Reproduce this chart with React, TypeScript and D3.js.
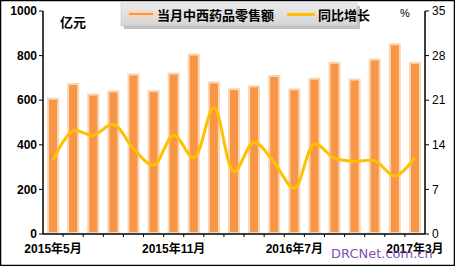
import React from "react";
import * as d3 from "d3";

const categories = [
  "2015年5月", "2015年6月", "2015年7月", "2015年8月", "2015年9月", "2015年10月",
  "2015年11月", "2015年12月", "2016年3月", "2016年4月", "2016年5月", "2016年6月",
  "2016年7月", "2016年8月", "2016年9月", "2016年10月", "2016年11月", "2016年12月",
  "2017年3月",
];
const salesValues = [602, 668, 621, 635, 711, 636, 715, 800, 675, 645, 658, 704, 644, 692, 763, 688, 778, 846, 763];
const growthValues = [11.6, 16.2, 15.5, 17.2, 13.4, 10.8, 15.5, 12.0, 19.8, 9.8, 14.4, 11.2, 7.2, 14.1, 11.9, 11.4, 11.5, 9.1, 12.0];
const leftTicks = [0, 200, 400, 600, 800, 1000];
const rightTicks = [0, 7, 14, 21, 28, 35];
const xTickLabels = ["2015年5月", "2015年11月", "2016年7月", "2017年3月"];
const legendLabels = ["当月中西药品零售额", "同比增长"];

const W = 455;
const H = 266;
const L = 43;
const R = 425;
const T = 11;
const B = 234;
const FONT = "Arial, 'Liberation Sans', 'Noto Sans CJK SC', sans-serif";

export default function App() {
  const x = d3.scaleBand<string>().domain(categories).range([L, R]).padding(0);
  const yL = d3.scaleLinear().domain([0, 1000]).range([B, T]);
  const yR = d3.scaleLinear().domain([0, 35]).range([B, T]);
  const cx = (c: string) => (x(c) as number) + x.bandwidth() / 2;

  const line = d3
    .line<number>()
    .x((_, i) => cx(categories[i]))
    .y((v) => yR(v))
    .curve(d3.curveCatmullRom.alpha(0.5));

  const outerW = 12;
  const innerW = 8;

  return (
    <svg width={W} height={H} style={{ position: "absolute", left: 0, top: 0 }}>
      <defs>
        <linearGradient id="lg" x1="0" y1="0" x2="0" y2="1">
          <stop offset="0" stopColor="#ececec" />
          <stop offset="1" stopColor="#d4d4d4" />
        </linearGradient>
      </defs>
      <rect x={0} y={0} width={W} height={H} fill="#fff" />
      <rect x={0.5} y={0.5} width={W - 1} height={H - 1} fill="none" stroke="#000" strokeWidth={1.5} />

      {/* bars */}
      {categories.map((c, i) => {
        const v = salesValues[i];
        const xc = cx(c);
        return (
          <g key={c}>
            <rect x={xc - outerW / 2} y={yL(v) - 2} width={outerW} height={B - yL(v) + 1} fill="#FCD5B5" />
            <rect x={xc - innerW / 2} y={yL(v)} width={innerW} height={B - yL(v) - 2} fill="#F79646" />
          </g>
        );
      })}

      {/* line */}
      <path d={line(growthValues) || ""} fill="none" stroke="#FFC000" strokeWidth={3} strokeLinejoin="round" />

      {/* axes */}
      <line x1={L} y1={T} x2={L} y2={B} stroke="#000" strokeWidth={1.5} />
      <line x1={R} y1={T} x2={R} y2={B} stroke="#000" strokeWidth={1.5} />
      <line x1={L} y1={B} x2={R} y2={B} stroke="#000" strokeWidth={1.5} />
      {leftTicks.map((t) => (
        <g key={"l" + t}>
          <line x1={L - 4} x2={L} y1={yL(t)} y2={yL(t)} stroke="#000" />
          <text x={37} y={yL(t)} dy="0.35em" textAnchor="end" fontFamily={FONT} fontSize={12} fontWeight="bold" fill="#000">
            {t}
          </text>
        </g>
      ))}
      {rightTicks.map((t) => (
        <g key={"r" + t}>
          <line x1={R} x2={R + 4} y1={yR(t)} y2={yR(t)} stroke="#000" />
          <text x={432} y={yR(t)} dy="0.35em" textAnchor="start" fontFamily={FONT} fontSize={12} fill="#000">
            {t}
          </text>
        </g>
      ))}
      {categories.slice(1).map((c) => (
        <line key={"xt" + c} x1={x(c) as number} x2={x(c) as number} y1={B} y2={B + 3} stroke="#000" />
      ))}
      {xTickLabels.map((c) => (
        <text key={"xl" + c} x={cx(c)} y={253} textAnchor="middle" fontFamily={FONT} fontSize={12} fontWeight="bold" fill="#000">
          {c}
        </text>
      ))}

      <text x={60} y={27} fontFamily={FONT} fontSize={13} fontWeight="bold" fill="#000">亿元</text>
      <text x={400} y={17} fontFamily={FONT} fontSize={11} fill="#000">%</text>

      {/* legend */}
      <rect x={124} y={6} width={236} height={23} fill="#9a9a9a" opacity={0.6} />
      <rect x={121} y={3} width={236} height={23} fill="url(#lg)" stroke="#bfbfbf" strokeWidth={0.5} />
      <rect x={127} y={11} width={28} height={6} fill="#FCD5B5" />
      <rect x={129} y={13} width={24} height={2} fill="#F79646" />
      <text x={157} y={20} fontFamily={FONT} fontSize={13} fontWeight="bold" fill="#000">{legendLabels[0]}</text>
      <line x1={287} x2={315} y1={14.5} y2={14.5} stroke="#FFC000" strokeWidth={3} />
      <text x={318} y={20} fontFamily={FONT} fontSize={13} fontWeight="bold" fill="#000">{legendLabels[1]}</text>

      {/* watermark */}
      <text x={331} y={258} fontFamily="'DejaVu Sans', sans-serif" fontSize={13} fill="#7030A0" opacity={0.85}>DRCNet.com.cn</text>
    </svg>
  );
}
